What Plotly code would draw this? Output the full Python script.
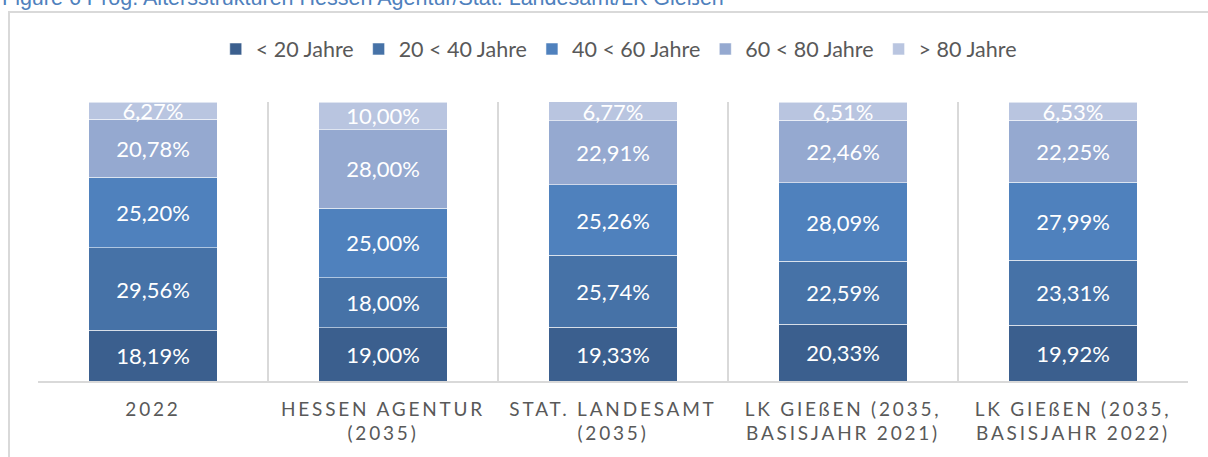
import plotly.graph_objects as go

categories = [
    "2022",
    "HESSEN AGENTUR<br>(2035)",
    "STAT. LANDESAMT<br>(2035)",
    "LK GIEßEN (2035,<br>BASISJAHR 2021)",
    "LK GIEßEN (2035,<br>BASISJAHR 2022)",
]
series_names = ["< 20 Jahre", "20 < 40 Jahre", "40 < 60 Jahre", "60 < 80 Jahre", "> 80 Jahre"]
under_20 = [18.19, 19.00, 19.33, 20.33, 19.92]
age_20_40 = [29.56, 18.00, 25.74, 22.59, 23.31]
age_40_60 = [25.20, 25.00, 25.26, 28.09, 27.99]
age_60_80 = [20.78, 28.00, 22.91, 22.46, 22.25]
over_80 = [6.27, 10.00, 6.77, 6.51, 6.53]
colors = ["#3B5F8E", "#4672A7", "#4F81BD", "#95A9D0", "#B9C5E0"]

title_text = "Figure 6 Prog. Altersstrukturen Hessen Agentur/Stat. Landesamt/LK Gießen"

series = [under_20, age_20_40, age_40_60, age_60_80, over_80]

fig = go.Figure()
for name, vals, col in zip(series_names, series, colors):
    fig.add_trace(go.Bar(
        x=categories, y=vals, name=name,
        marker=dict(color=col, line=dict(color="rgba(255,255,255,0.55)", width=1)),
        text=[f"{v:.2f}".replace(".", ",") + "%" for v in vals],
        textposition="inside", insidetextanchor="middle",
        textfont=dict(family="Lato", size=22, color="white"),
        hoverinfo="skip",
    ))

L, R, T, B = 38, 20, 102, 76
W, H = 1208, 457
pw, ph = W - L - R, H - T - B

def px_x(x):
    return (x - L) / pw

def px_y(y):
    return (H - B - y) / ph

fig.update_layout(
    width=W, height=H,
    barmode="stack", bargap=0.44,
    margin=dict(l=L, r=R, t=T, b=B, autoexpand=False),
    paper_bgcolor="white", plot_bgcolor="white",
    uniformtext=dict(minsize=22, mode="show"),
    font=dict(family="Lato", color="#595959"),
    legend=dict(
        orientation="h", x=0.505, xanchor="center", y=px_y(49), yanchor="middle",
        font=dict(family="Lato", size=21.5, color="#595959"),
        traceorder="normal", itemwidth=30,
    ),
    xaxis=dict(
        type="category", tickson="boundaries", showgrid=True,
        gridcolor="#D9D9D9", gridwidth=1.5,
        showline=True, linecolor="#D9D9D9", linewidth=1.5,
        ticks="", tickfont=dict(family="Lato", size=19, color="#595959"),
        ticklabelstandoff=10,
        mirror=False,
    ),
    yaxis=dict(range=[0, 100], showgrid=False, showticklabels=False,
               zeroline=False, showline=False),
    shapes=[dict(
        type="rect", xref="paper", yref="paper",
        x0=px_x(9), x1=px_x(1215), y0=px_y(465), y1=px_y(12),
        line=dict(color="#D9D9D9", width=2), fillcolor="rgba(0,0,0,0)", layer="below",
    )],
    annotations=[dict(
        text=title_text, xref="paper", yref="paper",
        x=px_x(0), y=px_y(12), xanchor="left", yanchor="bottom",
        showarrow=False, font=dict(family="Liberation Sans", size=21.5, color="#4F81BD"),
    )],
)

post = """
document.body.style.margin='0';
document.body.style.padding='0';
function spaceTicks(){
  document.querySelectorAll('.xtick text').forEach(function(t){
    t.style.letterSpacing='2.8px';
  });
}
spaceTicks();
var gd = document.getElementsByClassName('plotly-graph-div')[0];
if (gd && gd.on) { gd.on('plotly_afterplot', spaceTicks); }
"""

fig.write_html("out.html", post_script=post, config={"displayModeBar": False})
